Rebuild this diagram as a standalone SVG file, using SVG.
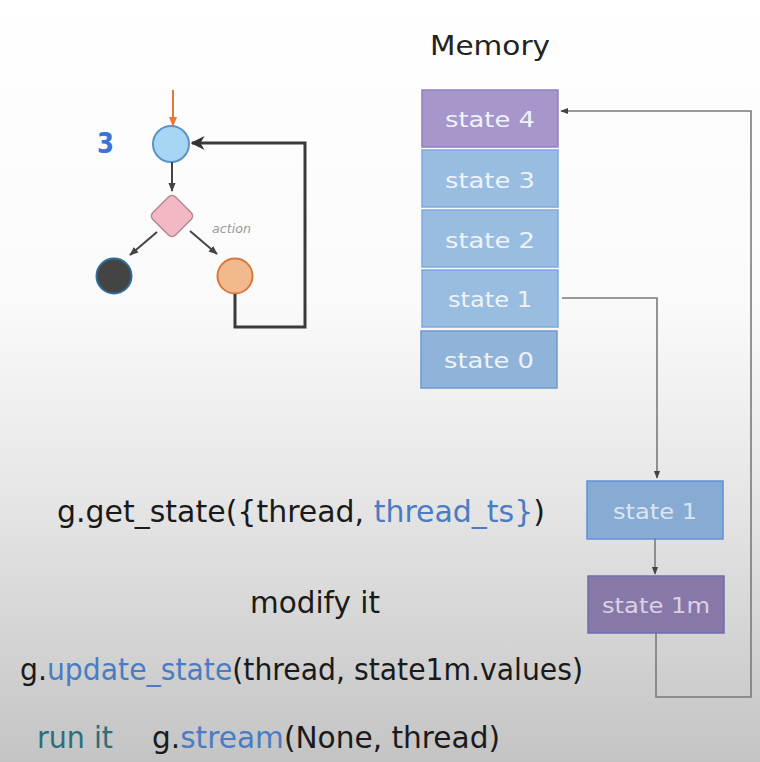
<svg xmlns="http://www.w3.org/2000/svg" width="760" height="762" viewBox="0 0 760 762">
<defs>
<linearGradient id="bg" x1="0" y1="0" x2="0" y2="1">
<stop offset="0" stop-color="#ffffff"/>
<stop offset="0.4" stop-color="#fafafa"/>
<stop offset="0.65" stop-color="#e6e6e6"/>
<stop offset="1" stop-color="#c4c4c4"/>
</linearGradient>
<marker id="ah" viewBox="0 0 10 10" refX="9" refY="5" markerWidth="9" markerHeight="9" orient="auto" markerUnits="userSpaceOnUse">
<path d="M0,1 L10,5 L0,9 z" fill="#444"/>
</marker>
<marker id="ahg" viewBox="0 0 10 10" refX="9" refY="5" markerWidth="8" markerHeight="8" orient="auto" markerUnits="userSpaceOnUse">
<path d="M0,1 L10,5 L0,9 z" fill="#444"/>
</marker>
<marker id="ahd" viewBox="0 0 10 10" refX="9" refY="5" markerWidth="14" markerHeight="14" orient="auto" markerUnits="userSpaceOnUse">
<path d="M0,0 L10,5 L0,10 L3,5 z" fill="#333"/>
</marker>
<marker id="aho" viewBox="0 0 10 10" refX="9" refY="5" markerWidth="10" markerHeight="10" orient="auto" markerUnits="userSpaceOnUse">
<path d="M0,1 L10,5 L0,9 z" fill="#e8763a"/>
</marker>
</defs>
<style>
.t{font-family:"DejaVu Sans","Open Sans",sans-serif;}
.st{font-family:"DejaVu Sans","Open Sans",sans-serif;font-size:22px;fill:#eef3fa;text-anchor:middle;}
.code{font-family:"DejaVu Sans","Open Sans",sans-serif;font-size:30px;fill:#1a1a1a;}
.kw{fill:#4a7cc4;}
.blue{fill:#98bde1;stroke:#7ea9dd;stroke-width:1.5;}
.purple{fill:#a696cb;stroke:#8f80c2;stroke-width:1.5;}
.conn{fill:none;stroke:#7a7a7a;stroke-width:1.6;}
.loop{fill:none;stroke:#3a3a3a;stroke-width:3;}
.edge{fill:none;stroke:#444;stroke-width:2;}
</style>
<rect x="0" y="0" width="760" height="762" fill="url(#bg)"/>

<text class="t" x="430" y="55" font-size="27" fill="#222" textLength="120" lengthAdjust="spacingAndGlyphs">Memory</text>

<g id="mem-state4"><rect class="purple" x="422" y="90" width="136" height="57"/><text class="st" x="490" y="127" textLength="90" lengthAdjust="spacingAndGlyphs">state 4</text></g>
<g id="mem-state3"><rect class="blue" x="422" y="150" width="136" height="57"/><text class="st" x="490" y="188" textLength="90" lengthAdjust="spacingAndGlyphs">state 3</text></g>
<g id="mem-state2"><rect class="blue" x="422" y="210" width="136" height="57"/><text class="st" x="490" y="248" textLength="90" lengthAdjust="spacingAndGlyphs">state 2</text></g>
<g id="mem-state1"><rect class="blue" x="422" y="270" width="136" height="57" fill="#94b9de"/><text class="st" x="490" y="307" textLength="84" lengthAdjust="spacingAndGlyphs">state 1</text></g>
<g id="mem-state0"><rect x="421" y="331" width="136" height="57" fill="#8fb3d9" stroke="#6f99cd" stroke-width="1.5"/><text class="st" x="489" y="368" textLength="90" lengthAdjust="spacingAndGlyphs">state 0</text></g>

<g id="copy-state1"><rect x="587" y="481" width="136" height="58" fill="#88abd3" stroke="#5f90d6" stroke-width="1.5"/><text class="st" x="655" y="519" textLength="84" lengthAdjust="spacingAndGlyphs" style="fill:#dbe6f2">state 1</text></g>
<g id="copy-state1m"><rect x="588" y="576" width="136" height="57" fill="#8878a8" stroke="#6b6fb3" stroke-width="1.5"/><text class="st" x="656" y="613" textLength="108" lengthAdjust="spacingAndGlyphs" style="fill:#d8d2e6">state 1m</text></g>

<g id="graph">
<g id="node-start"><circle cx="171" cy="144" r="18" fill="#a7d5f5" stroke="#5b93c6" stroke-width="2"/></g>
<g id="node-decide"><rect x="156" y="200" width="32" height="32" rx="5" transform="rotate(45 172 216)" fill="#f3b8c3" stroke="#b08a95" stroke-width="1.5"/></g>
<g id="node-end"><circle cx="114" cy="276" r="17.5" fill="#444" stroke="#2f6f9a" stroke-width="2"/></g>
<g id="node-action"><circle cx="235" cy="276" r="17.5" fill="#f1b98d" stroke="#d9783f" stroke-width="2"/></g>
<text class="t" x="97" y="153" font-size="28" font-weight="bold" fill="#3a72d8" textLength="17" lengthAdjust="spacingAndGlyphs">3</text>
<text class="t" x="212" y="233" font-size="13" font-style="italic" fill="#999" textLength="39" lengthAdjust="spacingAndGlyphs">action</text>
</g>

<g id="connectors">
<line x1="173" y1="90" x2="173" y2="126" stroke="#e8763a" stroke-width="2" marker-end="url(#aho)"/>
<line class="edge" x1="172" y1="162" x2="172" y2="191" marker-end="url(#ah)"/>
<line class="edge" x1="157" y1="232" x2="130" y2="255" marker-end="url(#ah)"/>
<line class="edge" x1="190" y1="231" x2="217" y2="254" marker-end="url(#ah)"/>
<path class="loop" d="M235,294 V327 H305 V143 H192" marker-end="url(#ahd)"/>
<path class="conn" d="M562,298 H657 V478" marker-end="url(#ahg)"/>
<line class="conn" x1="655" y1="539" x2="655" y2="574" stroke="#555" marker-end="url(#ahg)"/>
<path class="conn" d="M656,633 V697 H751 V111 H561" marker-end="url(#ahg)"/>
</g>

<g id="code">
<text class="code" x="57" y="522" textLength="488" lengthAdjust="spacingAndGlyphs">g.get_state({thread, <tspan class="kw">thread_ts}</tspan>)</text>
<text class="code" x="250" y="613" textLength="130" lengthAdjust="spacingAndGlyphs">modify it</text>
<text class="code" x="20" y="680" textLength="563" lengthAdjust="spacingAndGlyphs">g.<tspan class="kw">update_state</tspan>(thread, state1m.values)</text>
<text class="code" x="37" y="748" textLength="76" lengthAdjust="spacingAndGlyphs" style="fill:#2c6f78">run it</text>
<text class="code" x="152" y="748" textLength="348" lengthAdjust="spacingAndGlyphs">g.<tspan class="kw">stream</tspan>(None, thread)</text>
</g>
</svg>
